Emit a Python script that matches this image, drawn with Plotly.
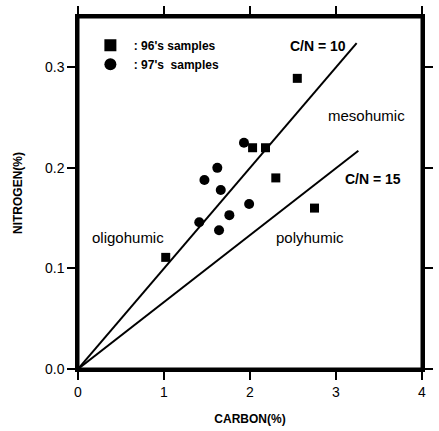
import plotly.graph_objects as go

# 96's samples (squares)
s96_carbon = [1.02, 2.03, 2.18, 2.55, 2.30, 2.75]
s96_nitrogen = [0.111, 0.220, 0.220, 0.289, 0.190, 0.160]

# 97's samples (circles)
s97_carbon = [1.93, 1.62, 1.47, 1.66, 1.99, 1.76, 1.41, 1.64]
s97_nitrogen = [0.225, 0.200, 0.188, 0.178, 0.164, 0.153, 0.146, 0.138]

# C/N reference lines
cn10_x = [0.0, 3.24]
cn10_y = [0.0, 0.324]
cn15_x = [0.0, 3.26]
cn15_y = [0.0, 0.217]

x_ticks = [0, 1, 2, 3, 4]
y_ticks = [0.0, 0.1, 0.2, 0.3]

FONT = "Liberation Sans, Arial, sans-serif"

fig = go.Figure()
fig.add_trace(go.Scatter(x=cn10_x, y=cn10_y, mode="lines",
                         line=dict(color="black", width=2), showlegend=False))
fig.add_trace(go.Scatter(x=cn15_x, y=cn15_y, mode="lines",
                         line=dict(color="black", width=2), showlegend=False))
fig.add_trace(go.Scatter(x=s96_carbon, y=s96_nitrogen, mode="markers",
                         name="<b>\u00a0: 96's samples</b>",
                         marker=dict(symbol="square", size=9, color="black")))
fig.add_trace(go.Scatter(x=s97_carbon, y=s97_nitrogen, mode="markers",
                         name="<b>\u00a0: 97's \u00a0samples</b>",
                         marker=dict(symbol="circle", size=10, color="black")))

annots = [
    dict(x=2.79, y=0.321, text="<b>C/N = 10</b>", size=14),
    dict(x=3.36, y=0.252, text="mesohumic", size=15),
    dict(x=3.43, y=0.189, text="<b>C/N = 15</b>", size=14),
    dict(x=0.58, y=0.131, text="oligohumic", size=15),
    dict(x=2.70, y=0.131, text="polyhumic", size=15),
]
for a in annots:
    fig.add_annotation(x=a["x"], y=a["y"], text=a["text"], showarrow=False,
                       xref="x", yref="y",
                       font=dict(family=FONT, size=a["size"], color="black"))

# plot frame
fig.add_shape(type="rect", xref="paper", yref="paper",
              x0=0, x1=1, y0=0, y1=1, line=dict(color="black", width=3),
              fillcolor="rgba(0,0,0,0)", layer="above")

axis_common = dict(showgrid=False, zeroline=False, showline=True,
                   linecolor="black", linewidth=2.5, mirror="allticks",
                   ticks="outside", ticklen=8, tickwidth=1.5, tickcolor="black",
                   tickfont=dict(family=FONT, size=14, color="black"))

fig.update_xaxes(range=[0, 4], tickvals=x_ticks,
                 title=dict(text="<b>CARBON(%)</b>", font=dict(family=FONT, size=12, color="black"),
                            standoff=17),
                 **axis_common)
fig.update_yaxes(range=[0, 0.35], tickvals=y_ticks, tickformat=".1f",
                 title=dict(text="<b>NITROGEN(%)</b>", font=dict(family=FONT, size=12, color="black"),
                            standoff=20),
                 **axis_common)

fig.update_layout(
    width=439, height=431,
    margin=dict(l=78, r=6, t=15, b=58),
    plot_bgcolor="white", paper_bgcolor="white",
    font=dict(family=FONT, color="black"),
    legend=dict(x=0.036, y=0.961, xanchor="left", yanchor="top",
                bgcolor="rgba(0,0,0,0)", font=dict(family=FONT, size=12, color="black"),
                itemsizing="constant", tracegroupgap=0),
)

fig.write_html("out.html", config={"displayModeBar": False},
               post_script="document.body.style.margin='0';")
